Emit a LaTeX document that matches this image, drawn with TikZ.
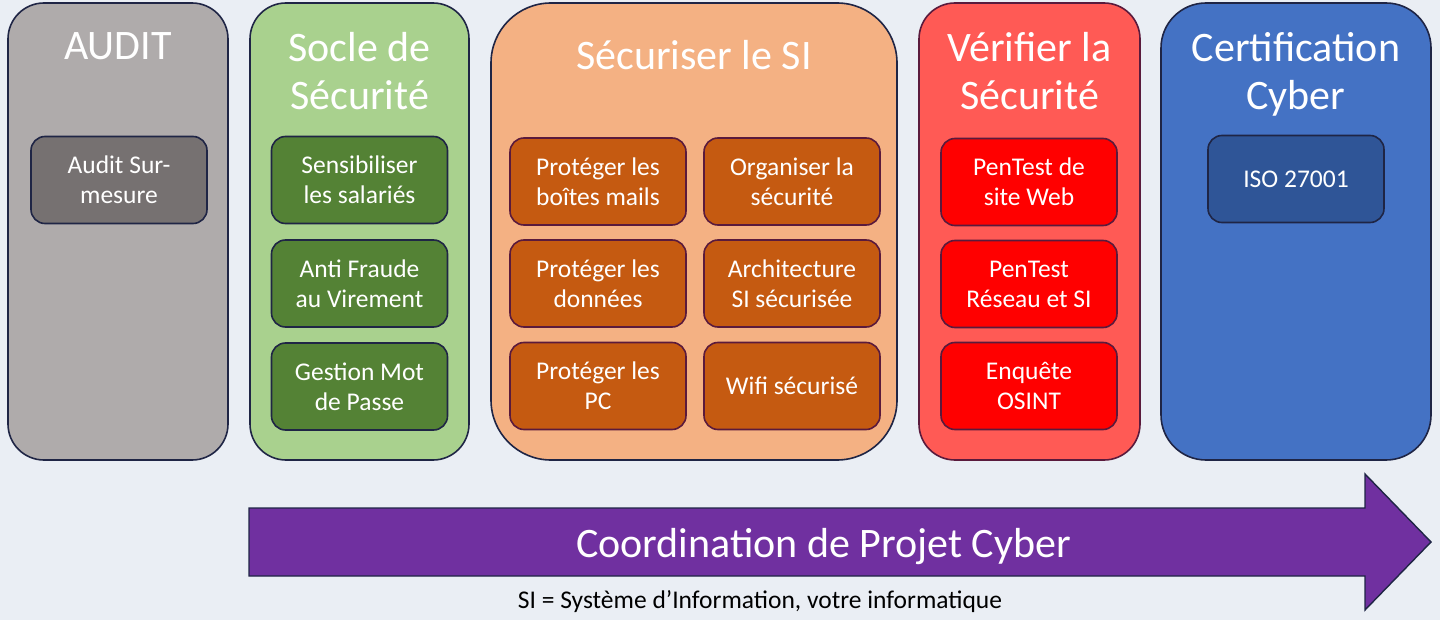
\documentclass[tikz,border=0pt]{standalone}
\usepackage{fontspec}
\setmainfont{Carlito}
\definecolor{bg}{HTML}{EAEEF4}
\definecolor{edge}{HTML}{1F2545}
\definecolor{edgeR}{HTML}{5A1A3C}
\definecolor{auditO}{HTML}{AFABAB}
\definecolor{auditI}{HTML}{767171}
\definecolor{socleO}{HTML}{A9D18E}
\definecolor{socleI}{HTML}{548235}
\definecolor{secO}{HTML}{F4B183}
\definecolor{secI}{HTML}{C55A11}
\definecolor{verO}{HTML}{FF5A55}
\definecolor{verI}{HTML}{FF0000}
\definecolor{certO}{HTML}{4472C4}
\definecolor{certI}{HTML}{2F5597}
\definecolor{arrowC}{HTML}{7030A0}
\begin{document}
\begin{tikzpicture}[x=1pt,y=-1pt,
  outerbox/.style={draw=edge, line width=1.6pt, rounded corners=36pt, inner sep=0pt, outer sep=0pt},
  innerbox/.style={draw=edge, line width=1.6pt, rounded corners=14pt, inner sep=0pt, outer sep=0pt,
     minimum width=176pt, minimum height=87pt, text=white, align=center,
     font=\fontsize{25.5}{30}\selectfont},
  title/.style={text=white, align=center, font=\fontsize{42}{48}\selectfont, inner sep=0pt},
]
\useasboundingbox[fill=bg] (0,0) rectangle (1440,620);

% outer columns
\node[outerbox, fill=auditO, minimum width=220pt, minimum height=457pt] (audit) at (118,231.5) {};
\node[outerbox, fill=socleO, minimum width=219pt, minimum height=457pt] (socle) at (359.5,231.5) {};
\node[outerbox, fill=secO, rounded corners=60pt, minimum width=406pt, minimum height=457pt] (secu) at (694,231.5) {};
\node[outerbox, fill=verO, draw=edgeR, minimum width=221pt, minimum height=457pt] (verif) at (1029.5,231.5) {};
\node[outerbox, fill=certO, rounded corners=45pt, minimum width=270pt, minimum height=457pt] (cert) at (1296,231.5) {};

% titles (base anchor = baseline of last line)
\node[title, anchor=base] (auditT) at (118,60) {AUDIT};
\node[title, anchor=base] (socleT) at (359.5,110) {Socle de\\Sécurité};
\node[title, anchor=base] (secuT) at (694,70) {Sécuriser le SI};
\node[title, anchor=base] (verifT) at (1029.5,110) {Vérifier la\\Sécurité};
\node[title, anchor=base] (certT) at (1296,110) {Certification\\Cyber};

% inner boxes
\node[innerbox, fill=auditI] (a1) at (119,180) {Audit Sur-\\mesure};

\node[innerbox, fill=socleI] (s1) at (359.5,180) {Sensibiliser\\les salariés};
\node[innerbox, fill=socleI] (s2) at (359.5,283.5) {Anti Fraude\\au Virement};
\node[innerbox, fill=socleI] (s3) at (359.5,386.5) {Gestion Mot\\de Passe};

\node[innerbox, fill=secI, draw=edgeR] (p1) at (598,181.5) {Protéger les\\boîtes mails};
\node[innerbox, fill=secI, draw=edgeR] (p2) at (598,283.5) {Protéger les\\données};
\node[innerbox, fill=secI, draw=edgeR] (p3) at (598,386) {Protéger les\\PC};
\node[innerbox, fill=secI, draw=edgeR] (o1) at (792,181.5) {Organiser la\\sécurité};
\node[innerbox, fill=secI, draw=edgeR] (o2) at (792,283.5) {Architecture\\SI sécurisée};
\node[innerbox, fill=secI, draw=edgeR] (o3) at (792,386) {Wifi sécurisé};

\node[innerbox, fill=verI, draw=edgeR] (v1) at (1029,182) {PenTest de\\site Web};
\node[innerbox, fill=verI, draw=edgeR] (v2) at (1029,284) {PenTest\\Réseau et SI};
\node[innerbox, fill=verI, draw=edgeR] (v3) at (1029,386) {Enquête\\OSINT};

\node[innerbox, fill=certI] (c1) at (1296,179) {ISO 27001};

% arrow
\coordinate (aL1) at (249,508);
\coordinate (aL2) at (249,576);
\draw[draw=edge, line width=1.4pt, fill=arrowC, line join=miter]
  (aL1) -- (1365,508) -- (1365,474) -- (1431,542) -- (1365,610) -- (1365,576) -- (aL2) -- cycle;
\node[title, anchor=base] (coord) at (823.5,557) {Coordination de Projet Cyber};

% footnote
\node[anchor=base, inner sep=0pt, font=\fontsize{25.5}{30}\selectfont] (note) at (760,608) {SI = Système d’Information, votre informatique};
\end{tikzpicture}
\end{document}
